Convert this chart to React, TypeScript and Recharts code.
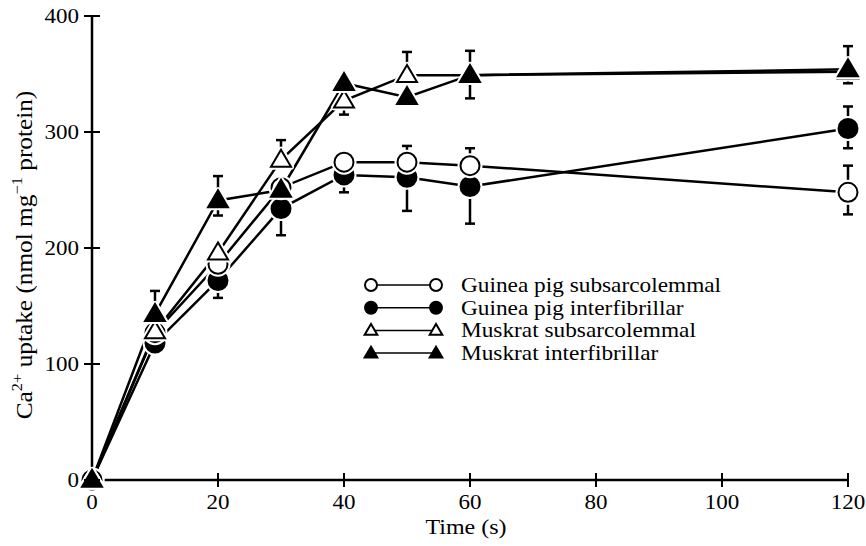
import { ErrorBar, Legend, Line, LineChart, XAxis, YAxis } from "recharts";

const FONT = '"Liberation Serif", "Times New Roman", serif';

// time points (s)
const TIMES = [0, 10, 20, 30, 40, 50, 60, 120];
const X_TICKS = [0, 20, 40, 60, 80, 100, 120];
const Y_TICKS = [0, 100, 200, 300, 400];

// Ca2+ uptake, nmol/mg protein
const GP_SUB = [0, 127, 186, 252, 274, 274, 271, 248];
const GP_INTER = [0, 118, 172, 234, 263, 261, 253, 303];
const MK_SUB = [0, 128, 196, 276, 327, 349, 349, 352];
const MK_INTER = [0, 143, 241, 250, 342, 330, 349, 354];

// error bars as [below, above], null = none drawn
type Err = [number, number] | null;
const GP_SUB_ERR: Err[] = [null, null, null, null, null, [0, 14], [0, 15], [19, 23]];
const GP_INTER_ERR: Err[] = [null, null, [15, 0], [23, 0], [15, 0], [29, 0], [32, 0], [17, 19]];
const MK_SUB_ERR: Err[] = [null, null, null, [0, 17], [12, 0], [0, 20], null, null];
const MK_INTER_ERR: Err[] = [null, [0, 20], [13, 21], null, null, null, [20, 21], [12, 20]];

type Kind = "circleOpen" | "circleFilled" | "triOpen" | "triFilled";

const SERIES: { key: string; name: string; values: number[]; err: Err[]; kind: Kind }[] = [
  { key: "gpInter", name: "Guinea pig interfibrillar", values: GP_INTER, err: GP_INTER_ERR, kind: "circleFilled" },
  { key: "gpSub", name: "Guinea pig subsarcolemmal", values: GP_SUB, err: GP_SUB_ERR, kind: "circleOpen" },
  { key: "mkSub", name: "Muskrat subsarcolemmal", values: MK_SUB, err: MK_SUB_ERR, kind: "triOpen" },
  { key: "mkInter", name: "Muskrat interfibrillar", values: MK_INTER, err: MK_INTER_ERR, kind: "triFilled" },
];

const LEGEND_ORDER = ["gpSub", "gpInter", "mkSub", "mkInter"];

const data = TIMES.map((t, i) => {
  const row: Record<string, unknown> = { time: t };
  for (const s of SERIES) {
    row[s.key] = s.values[i];
    if (s.err[i]) row[s.key + "Err"] = s.err[i];
  }
  return row;
});

function marker(kind: Kind, cx: number, cy: number, s: number, key: string, halo = true) {
  const isCircle = kind === "circleOpen" || kind === "circleFilled";
  const filled = kind === "circleFilled" || kind === "triFilled";
  if (isCircle) {
    const r = 9.5 * s;
    return (
      <g key={key}>
        {halo && <circle cx={cx} cy={cy} r={r + 3} fill="#fff" />}
        <circle cx={cx} cy={cy} r={r} fill={filled ? "#000" : "#fff"} stroke="#000" strokeWidth={2} />
      </g>
    );
  }
  const w = 20 * s;
  const h = 17 * s;
  const pts = `${cx},${cy - h * 0.6} ${cx - w / 2},${cy + h * 0.4} ${cx + w / 2},${cy + h * 0.4}`;
  return (
    <g key={key}>
      {halo && <polygon points={pts} fill="#fff" stroke="#fff" strokeWidth={6} strokeLinejoin="round" />}
      <polygon points={pts} fill={filled ? "#000" : "#fff"} stroke="#000" strokeWidth={2} strokeLinejoin="miter" />
    </g>
  );
}

const XTick = (props: any) => {
  const { x, y, payload } = props;
  return (
    <g>
      <line x1={x} x2={x} y1={y - 7} y2={y + 7} stroke="#000" strokeWidth={2} />
      <text
        transform={`translate(${x},${y + 29}) scale(1.15,1)`}
        textAnchor="middle"
        fontFamily={FONT}
        fontSize={20}
        fill="#000"
      >
        {payload.value}
      </text>
    </g>
  );
};

const YTick = (props: any) => {
  const { x, y, payload } = props;
  return (
    <g>
      <line x1={x - 8} x2={x + 8} y1={y} y2={y} stroke="#000" strokeWidth={2} />
      <text
        transform={`translate(${x - 13},${y + 7}) scale(1.15,1)`}
        textAnchor="end"
        fontFamily={FONT}
        fontSize={20}
        fill="#000"
      >
        {payload.value}
      </text>
    </g>
  );
};

const renderLegend = (props: any) => {
  const payload = [...(props.payload ?? [])].sort(
    (a: any, b: any) => LEGEND_ORDER.indexOf(a.dataKey) - LEGEND_ORDER.indexOf(b.dataKey)
  );
  return (
    <svg width={400} height={96}>
      {payload.map((p: any, i: number) => {
        const s = SERIES.find((q) => q.key === p.dataKey);
        if (!s) return null;
        const cy = 11 + i * 22.7;
        return (
          <g key={s.key}>
            <line x1={12} x2={69} y1={cy} y2={cy} stroke="#000" strokeWidth={1.5} />
            {marker(s.kind, 8, cy, 0.63, "a", false)}
            {marker(s.kind, 73, cy, 0.63, "b", false)}
            <text
              transform={`translate(98,${cy + 7}) scale(1.11,1)`}
              fontFamily={FONT}
              fontSize={21}
              fill="#000"
            >
              {s.name}
            </text>
          </g>
        );
      })}
    </svg>
  );
};

export default function App() {
  return (
    <div style={{ position: "absolute", left: 0, top: 0, width: 866, height: 546, background: "#fff" }}>
      <LineChart width={866} height={546} data={data} margin={{ top: 16, right: 18, bottom: 36, left: 32 }}>
        <XAxis
          type="number"
          dataKey="time"
          domain={[0, 120]}
          ticks={X_TICKS}
          interval={0}
          tickSize={0}
          tickMargin={0}
          tick={XTick}
          height={30}
          axisLine={{ stroke: "#000", strokeWidth: 2.5 }}
          label={{
            content: (p: any) => {
              const vb = p.viewBox ?? { x: 92, width: 756 };
              return (
                <text
                  transform={`translate(${vb.x + vb.width / 2 - 4},534) scale(1.2,1)`}
                  textAnchor="middle"
                  fontFamily={FONT}
                  fontSize={20}
                  fill="#000"
                >
                  Time (s)
                </text>
              );
            },
          }}
        />
        <YAxis
          type="number"
          domain={[0, 400]}
          ticks={Y_TICKS}
          interval={0}
          tickSize={0}
          tickMargin={0}
          tick={YTick}
          width={60}
          axisLine={{ stroke: "#000", strokeWidth: 2.5 }}
          label={{
            content: () => (
              <text
                transform="translate(32,255) rotate(-90) scale(1.1,1)"
                textAnchor="middle"
                fontFamily={FONT}
                fontSize={23}
                fill="#000"
              >
                Ca
                <tspan fontSize={15} dy={-10}>2+</tspan>
                <tspan dy={10}> uptake (nmol mg</tspan>
                <tspan fontSize={15} dy={-10}>−1</tspan>
                <tspan dy={10}> protein)</tspan>
              </text>
            ),
          }}
        />
        <Legend
          layout="vertical"
          align="center"
          verticalAlign="middle"
          content={renderLegend}
          wrapperStyle={{ position: "absolute", left: 363, top: 274, width: 400, height: 96 }}
        />
        {SERIES.map((s) => (
          <Line
            key={s.key}
            dataKey={s.key}
            name={s.name}
            type="linear"
            stroke="#000"
            strokeWidth={2.5}
            isAnimationActive={false}
            activeDot={false}
            dot={(p: any) => marker(s.kind, p.cx, p.cy, 1, `${s.key}-${p.index}`)}
          >
            <ErrorBar
              dataKey={s.key + "Err"}
              direction="y"
              width={5}
              stroke="#000"
              strokeWidth={2.5}
              isAnimationActive={false}
            />
          </Line>
        ))}
      </LineChart>
    </div>
  );
}
